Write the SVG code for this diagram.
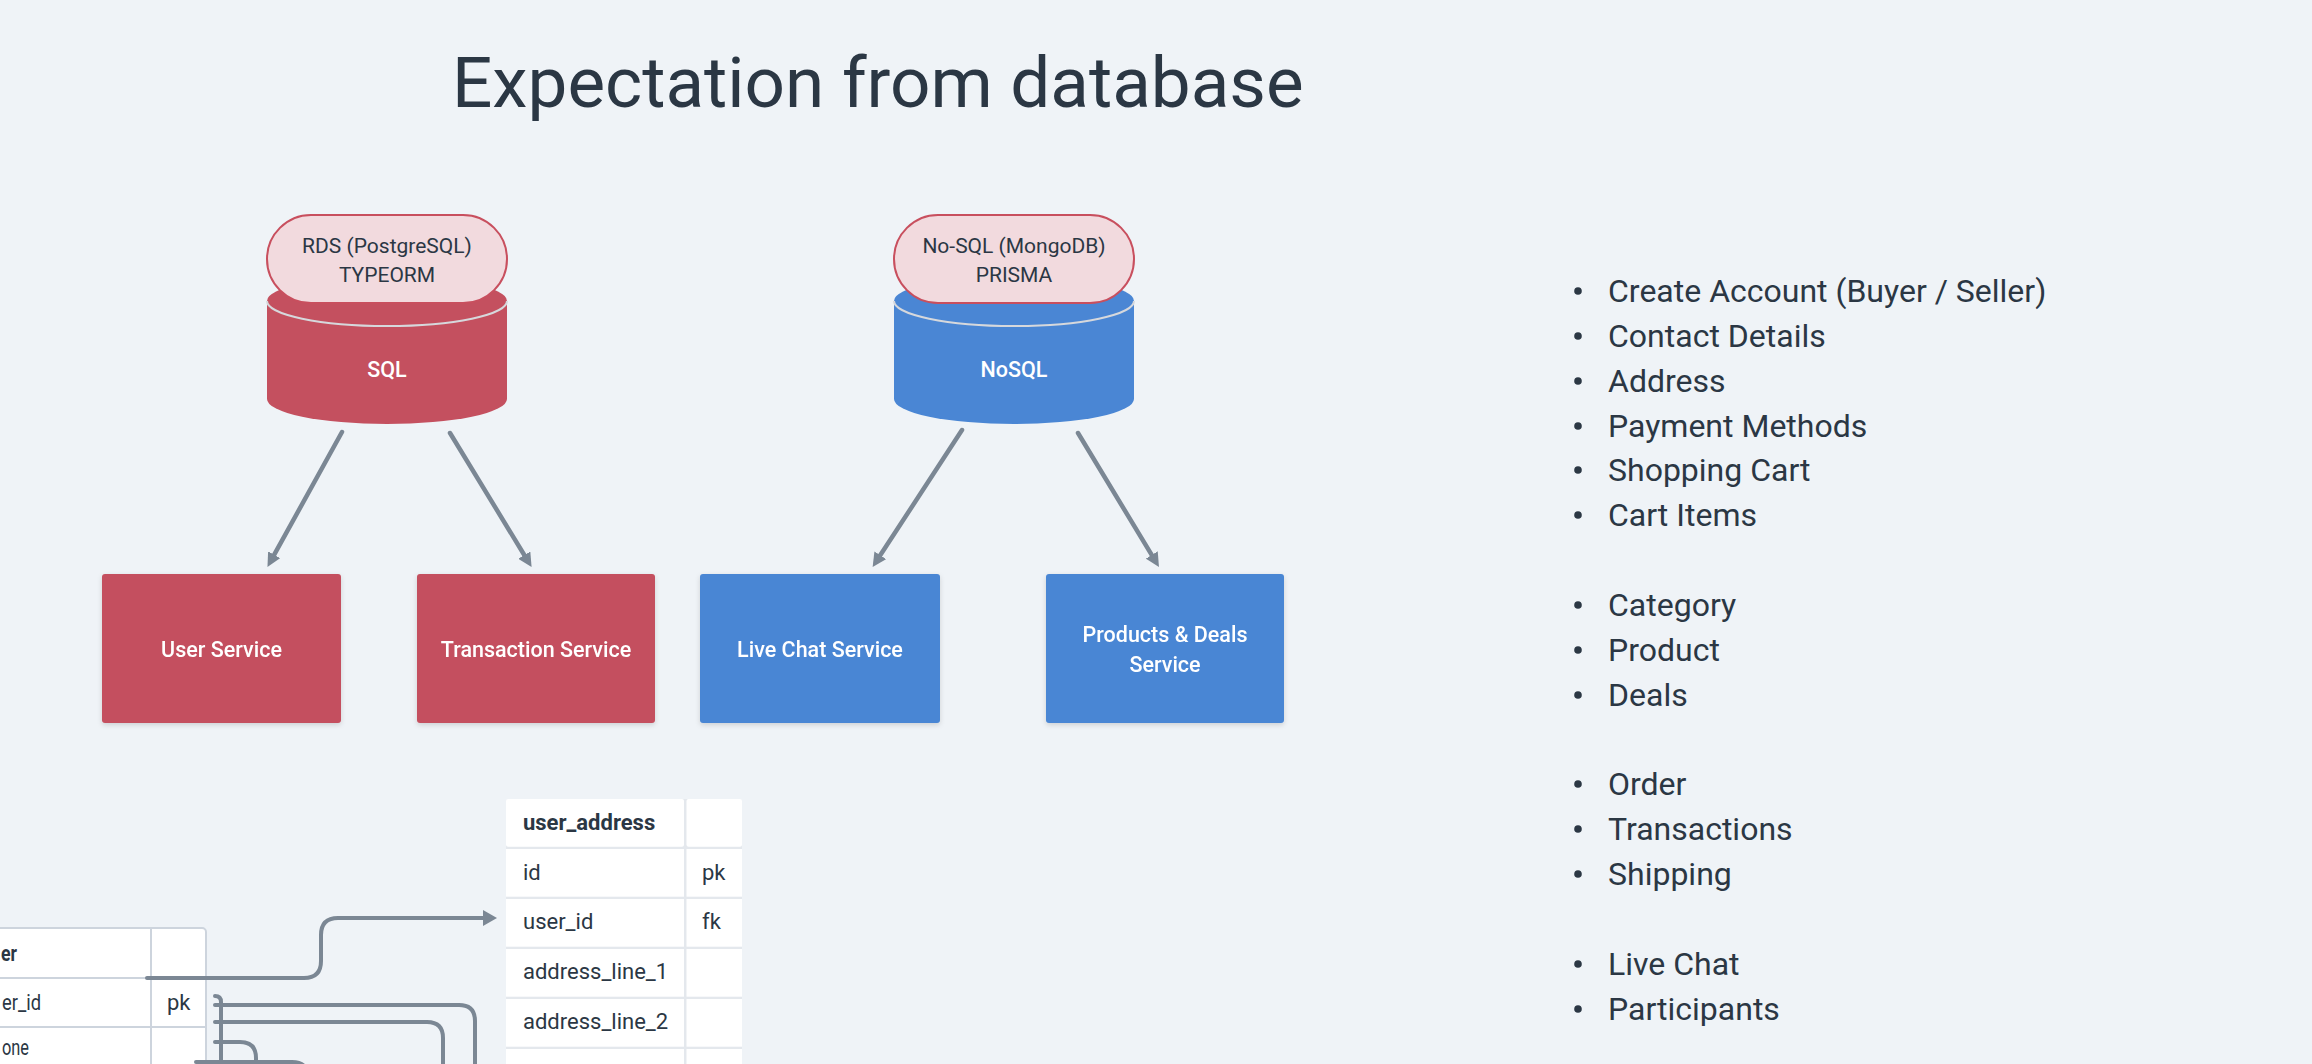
<svg xmlns="http://www.w3.org/2000/svg" width="2312" height="1064" viewBox="0 0 2312 1064">
  <style>
    .bg { fill: #eff3f7; }
    .t { font-family: Roboto, "Noto Sans", sans-serif; fill: #2b3744; }
    .title { font-size: 71px; }
    .pilltxt { font-size: 21px; text-anchor: middle; }
    .pill { fill: #f2dade; stroke: #c84f5e; stroke-width: 2; }
    .red { fill: #c4505f; }
    .blue { fill: #4a86d4; }
    .rim { fill: none; stroke: #d6d8dc; stroke-width: 2; }
    .wl { font-family: Roboto, "Noto Sans", sans-serif; fill: #ffffff; font-size: 21.5px; font-weight: 500; text-anchor: middle; }
    .svc { filter: url(#sh); }
    .conn { fill: none; stroke: #7b8794; stroke-width: 4.5; stroke-linecap: round; stroke-linejoin: round; }
    .er { fill: none; stroke: #7b8794; stroke-width: 4; stroke-linecap: round; }
    .li { font-size: 32px; }
    .dot { fill: #2b3744; }
    .cell { fill: #ffffff; }
    .tt { font-size: 22px; }
    .tb { font-size: 22px; font-weight: 700; }
    .grid { stroke: #cdd4dd; stroke-width: 2; fill: none; }
  </style>
  <defs>
    <filter id="sh" x="-10%" y="-10%" width="120%" height="125%">
      <feDropShadow dx="0" dy="2" stdDeviation="2.5" flood-color="#000000" flood-opacity="0.14"/>
    </filter>
    <marker id="ah" viewBox="0 0 14 14" refX="4" refY="7" markerWidth="14" markerHeight="14" markerUnits="userSpaceOnUse" orient="auto">
      <path d="M0,0 L14,7 L0,14 Z" fill="#7b8794"/>
    </marker>
    <marker id="ah2" viewBox="0 0 14 16" refX="4" refY="8" markerWidth="14" markerHeight="16" markerUnits="userSpaceOnUse" orient="auto">
      <path d="M0,0 L14,8 L0,16 Z" fill="#7b8794"/>
    </marker>
  </defs>
  <rect class="bg" x="0" y="0" width="2312" height="1064"/>

  <text class="t title" x="452" y="107">Expectation from database</text>

  <g id="sql-db">
    <path class="red" d="M267,301 V399 A120,25 0 0 0 507,399 V301 A120,25 0 0 0 267,301 Z"/>
    <path class="rim" d="M267,301 A120,25 0 0 0 507,301"/>
    <rect class="pill" x="267" y="215" width="240" height="88" rx="44"/>
    <text class="t pilltxt" x="387" y="253">RDS (PostgreSQL)</text>
    <text class="t pilltxt" x="387" y="282">TYPEORM</text>
    <text class="wl" x="387" y="377">SQL</text>
  </g>

  <g id="nosql-db">
    <path class="blue" d="M894,301 V399 A120,25 0 0 0 1134,399 V301 A120,25 0 0 0 894,301 Z"/>
    <path class="rim" d="M894,301 A120,25 0 0 0 1134,301"/>
    <rect class="pill" x="894" y="215" width="240" height="88" rx="44"/>
    <text class="t pilltxt" x="1014" y="253">No-SQL (MongoDB)</text>
    <text class="t pilltxt" x="1014" y="282">PRISMA</text>
    <text class="wl" x="1014" y="377">NoSQL</text>
  </g>

  <g id="user-service" class="svc">
    <rect class="red" x="102" y="574" width="239" height="149" rx="3"/>
    <text class="wl" x="221.5" y="657">User Service</text>
  </g>
  <g id="transaction-service" class="svc">
    <rect class="red" x="417" y="574" width="238" height="149" rx="3"/>
    <text class="wl" x="536" y="657">Transaction Service</text>
  </g>
  <g id="live-chat-service" class="svc">
    <rect class="blue" x="700" y="574" width="240" height="149" rx="3"/>
    <text class="wl" x="820" y="657">Live Chat Service</text>
  </g>
  <g id="products-deals-service" class="svc">
    <rect class="blue" x="1046" y="574" width="238" height="149" rx="3"/>
    <text class="wl" x="1165" y="642">Products &amp; Deals</text>
    <text class="wl" x="1165" y="672">Service</text>
  </g>

  <g id="feature-list">
    <circle class="dot" cx="1578" cy="291" r="3.8"/>
    <text class="t li" x="1608" y="302">Create Account (Buyer / Seller)</text>
    <circle class="dot" cx="1578" cy="336" r="3.8"/>
    <text class="t li" x="1608" y="347">Contact Details</text>
    <circle class="dot" cx="1578" cy="381" r="3.8"/>
    <text class="t li" x="1608" y="392">Address</text>
    <circle class="dot" cx="1578" cy="426" r="3.8"/>
    <text class="t li" x="1608" y="437">Payment Methods</text>
    <circle class="dot" cx="1578" cy="470" r="3.8"/>
    <text class="t li" x="1608" y="481">Shopping Cart</text>
    <circle class="dot" cx="1578" cy="515" r="3.8"/>
    <text class="t li" x="1608" y="526">Cart Items</text>

    <circle class="dot" cx="1578" cy="605" r="3.8"/>
    <text class="t li" x="1608" y="616">Category</text>
    <circle class="dot" cx="1578" cy="650" r="3.8"/>
    <text class="t li" x="1608" y="661">Product</text>
    <circle class="dot" cx="1578" cy="695" r="3.8"/>
    <text class="t li" x="1608" y="706">Deals</text>

    <circle class="dot" cx="1578" cy="784" r="3.8"/>
    <text class="t li" x="1608" y="795">Order</text>
    <circle class="dot" cx="1578" cy="829" r="3.8"/>
    <text class="t li" x="1608" y="840">Transactions</text>
    <circle class="dot" cx="1578" cy="874" r="3.8"/>
    <text class="t li" x="1608" y="885">Shipping</text>

    <circle class="dot" cx="1578" cy="964" r="3.8"/>
    <text class="t li" x="1608" y="975">Live Chat</text>
    <circle class="dot" cx="1578" cy="1009" r="3.8"/>
    <text class="t li" x="1608" y="1020">Participants</text>
  </g>

  <g id="user-table">
    <rect class="cell" x="-20" y="928" width="226" height="160" rx="4"/>
    <rect class="grid" x="-20" y="928" width="226" height="160" rx="4"/>
    <line class="grid" x1="151" y1="928" x2="151" y2="1064"/>
    <line class="grid" x1="-20" y1="978" x2="206" y2="978"/>
    <line class="grid" x1="-20" y1="1027" x2="206" y2="1027"/>
    <text class="t tb" x="1" y="961" textLength="16" lengthAdjust="spacingAndGlyphs">er</text>
    <text class="t tt" x="2" y="1010" textLength="39" lengthAdjust="spacingAndGlyphs">er_id</text>
    <text class="t tt" x="167" y="1010">pk</text>
    <text class="t tt" x="2" y="1055" textLength="27" lengthAdjust="spacingAndGlyphs">one</text>
  </g>

  <g id="user-address-table">
    <rect x="506" y="799" width="236" height="280" rx="3" fill="#e4e8ed"/>
    <rect class="cell" x="506" y="799" width="178" height="47.7" rx="2"/>
    <rect class="cell" x="686.5" y="799" width="55.5" height="47.7" rx="2"/>
    <rect class="cell" x="506" y="849" width="178" height="47.7"/>
    <rect class="cell" x="686.5" y="849" width="55.5" height="47.7"/>
    <rect class="cell" x="506" y="899" width="178" height="47.7"/>
    <rect class="cell" x="686.5" y="899" width="55.5" height="47.7"/>
    <rect class="cell" x="506" y="949" width="178" height="47.7"/>
    <rect class="cell" x="686.5" y="949" width="55.5" height="47.7"/>
    <rect class="cell" x="506" y="999" width="178" height="47.7"/>
    <rect class="cell" x="686.5" y="999" width="55.5" height="47.7"/>
    <rect class="cell" x="506" y="1049" width="178" height="30"/>
    <rect class="cell" x="686.5" y="1049" width="55.5" height="30"/>
    <text class="t tb" x="523" y="830">user_address</text>
    <text class="t tt" x="523" y="880">id</text>
    <text class="t tt" x="702" y="880">pk</text>
    <text class="t tt" x="523" y="929">user_id</text>
    <text class="t tt" x="702" y="929">fk</text>
    <text class="t tt" x="523" y="979">address_line_1</text>
    <text class="t tt" x="523" y="1029">address_line_2</text>
  </g>

  <g id="connectors">
    <path class="conn" d="M342,432 L272.3,558.2" marker-end="url(#ah)"/>
    <path class="conn" d="M450,433 L526.4,558.5" marker-end="url(#ah)"/>
    <path class="conn" d="M962,430 L878.1,558.6" marker-end="url(#ah)"/>
    <path class="conn" d="M1078,433 L1153.8,558.4" marker-end="url(#ah)"/>

    <path class="er" d="M147,978 H304 Q321,978 321,961 V935 Q321,918 338,918 H487" marker-end="url(#ah2)"/>
    <path class="er" d="M215,996 Q221,996 221,1002 V1075"/>
    <path class="er" d="M215,1005 H459 Q475,1005 475,1021 V1075"/>
    <path class="er" d="M215,1022 H427 Q443,1022 443,1038 V1075"/>
    <path class="er" d="M215,1042 H240 Q256,1042 256,1058 V1075"/>
    <path class="er" d="M196,1062 H292 Q308,1062 308,1078"/>
  </g>
</svg>
